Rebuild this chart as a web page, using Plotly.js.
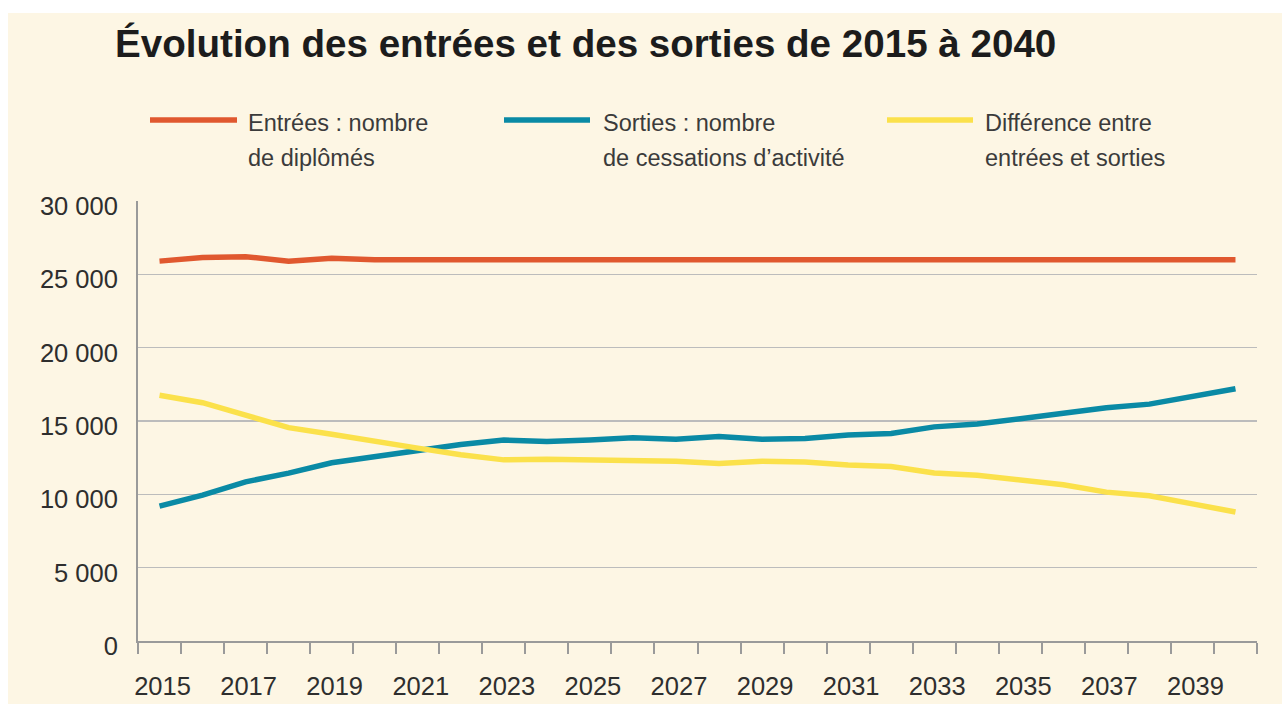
<!DOCTYPE html>
<html>
<head>
<meta charset="utf-8">
<script src="https://cdn.plot.ly/plotly-3.0.1.min.js"></script>
<style>
  html, body { margin: 0; padding: 0; background: #ffffff; }
  #chart { position: absolute; left: 8px; top: 13px; width: 1274px; height: 691px; }
</style>
</head>
<body>
<div id="chart"></div>
<script>
// ---- Data ----
const years = [2015, 2016, 2017, 2018, 2019, 2020, 2021, 2022, 2023, 2024, 2025, 2026, 2027,
               2028, 2029, 2030, 2031, 2032, 2033, 2034, 2035, 2036, 2037, 2038, 2039, 2040];
const entrees = [25900, 26150, 26200, 25900, 26100, 26000, 26000, 26000, 26000, 26000, 26000, 26000, 26000,
                 26000, 26000, 26000, 26000, 26000, 26000, 26000, 26000, 26000, 26000, 26000, 26000, 26000];
const sorties = [9200, 9950, 10850, 11450, 12150, 12550, 12950, 13400, 13700, 13600, 13700, 13850, 13750,
                 13950, 13750, 13800, 14050, 14150, 14600, 14800, 15150, 15500, 15900, 16150, 16700, 17200];
const difference = [16750, 16250, 15400, 14550, 14100, 13600, 13150, 12700, 12350, 12400, 12350, 12250, 12250,
                    12100, 12250, 12200, 12000, 11900, 11450, 11300, 11000, 10650, 10150, 9900, 9350, 8800];
const xTickYears = [2015, 2017, 2019, 2021, 2023, 2025, 2027, 2029, 2031, 2033, 2035, 2037, 2039];
const xTickText = ["2015", "2017", "2019", "2021", "2023", "2025", "2027", "2029", "2031", "2033", "2035", "2037", "2039"];
const yTickVals = [0, 5000, 10000, 15000, 20000, 25000, 30000];
const yTickText = ["0", "5 000", "10 000", "15 000", "20 000", "25 000", "30 000"];
const seriesNames = ["Entrées : nombre<br>de diplômés",
                     "Sorties : nombre<br>de cessations d’activité",
                     "Différence entre<br>entrées et sorties"];
const legendLine1 = ["Entrées : nombre", "Sorties : nombre", "Différence entre"];
const legendLine2 = ["de diplômés", "de cessations d’activité", "entrées et sorties"];
const titleText = "Évolution des entrées et des sorties de 2015 à 2040";

// ---- Styling / layout ----
const colors = ["#e0582f", "#0a8aa5", "#fbe14b"];
const FONT = "Liberation Sans, Arial, Helvetica, sans-serif";
const W = 1274, H = 691;
const M = { l: 130, r: 25, t: 188, b: 63 };
const plotW = W - M.l - M.r, plotH = H - M.t - M.b;
const px2x = px => (px - M.l) / plotW;
const px2y = py => (H - M.b - py) / plotH;

const seriesData = [entrees, sorties, difference];
const traces = seriesData.map((vals, i) => ({
  type: "scatter",
  mode: "lines",
  x: years,
  y: vals,
  name: seriesNames[i],
  line: { color: colors[i], width: 5.5 },
  showlegend: false,
  hoverinfo: "skip"
}));

// manual legend (positions in pixels of the chart div)
const legendLineX = [[142, 229], [496, 582], [879, 965]];
const legendTextX = [238, 593, 975];
const legendLineY = 107;
const legendRow1Y = 110;
const legendRow2Y = 145;

const shapes = legendLineX.map((xs, i) => ({
  type: "line", xref: "paper", yref: "paper",
  x0: px2x(xs[0]), x1: px2x(xs[1]), y0: px2y(legendLineY), y1: px2y(legendLineY),
  line: { color: colors[i], width: 5.5 }
}));

const annotations = [];
legendTextX.forEach((lx, i) => {
  annotations.push({
    xref: "paper", yref: "paper", x: px2x(lx), y: px2y(legendRow1Y),
    xanchor: "left", yanchor: "middle", showarrow: false, align: "left",
    text: legendLine1[i], font: { family: FONT, size: 23.5, color: "#3b3b3b" }
  });
  annotations.push({
    xref: "paper", yref: "paper", x: px2x(lx), y: px2y(legendRow2Y),
    xanchor: "left", yanchor: "middle", showarrow: false, align: "left",
    text: legendLine2[i], font: { family: FONT, size: 23.5, color: "#3b3b3b" }
  });
});

const layout = {
  width: W, height: H,
  margin: M,
  paper_bgcolor: "#fdf6e4",
  plot_bgcolor: "#fdf6e4",
  font: { family: FONT, color: "#2e2e2e" },
  title: {
    text: titleText,
    xref: "container", yref: "container",
    x: 107 / W, xanchor: "left",
    y: 1 - 30 / H, yanchor: "middle",
    font: { family: FONT, size: 38.6, weight: "bold", color: "#1c1c1c" }
  },
  showlegend: false,
  xaxis: {
    range: [2014.5, 2040.5],
    tickmode: "array",
    tickvals: xTickYears,
    ticktext: xTickText,
    ticks: "",
    ticklabelstandoff: 21,
    ticklabelshift: 3,
    tickfont: { family: FONT, size: 25.5, color: "#2e2e2e" },
    showgrid: false,
    zeroline: false,
    showline: true,
    linecolor: "#9a9a9a",
    linewidth: 2,
    minor: {
      tickmode: "linear", tick0: 2014.5, dtick: 1,
      ticks: "outside", ticklen: 11, tickwidth: 2, tickcolor: "#9a9a9a",
      showgrid: false
    },
    fixedrange: true
  },
  yaxis: {
    range: [0, 30000],
    tickmode: "array",
    tickvals: yTickVals,
    ticktext: yTickText,
    ticks: "",
    ticklabelstandoff: 13,
    ticklabelshift: 5,
    tickfont: { family: FONT, size: 25.5, color: "#2e2e2e" },
    showgrid: true,
    gridcolor: "#bcbcbc",
    gridwidth: 1.5,
    zeroline: false,
    showline: true,
    linecolor: "#9a9a9a",
    linewidth: 2,
    fixedrange: true
  },
  shapes: shapes,
  annotations: annotations
};

Plotly.newPlot("chart", traces, layout, { staticPlot: true, displayModeBar: false });
</script>
</body>
</html>
